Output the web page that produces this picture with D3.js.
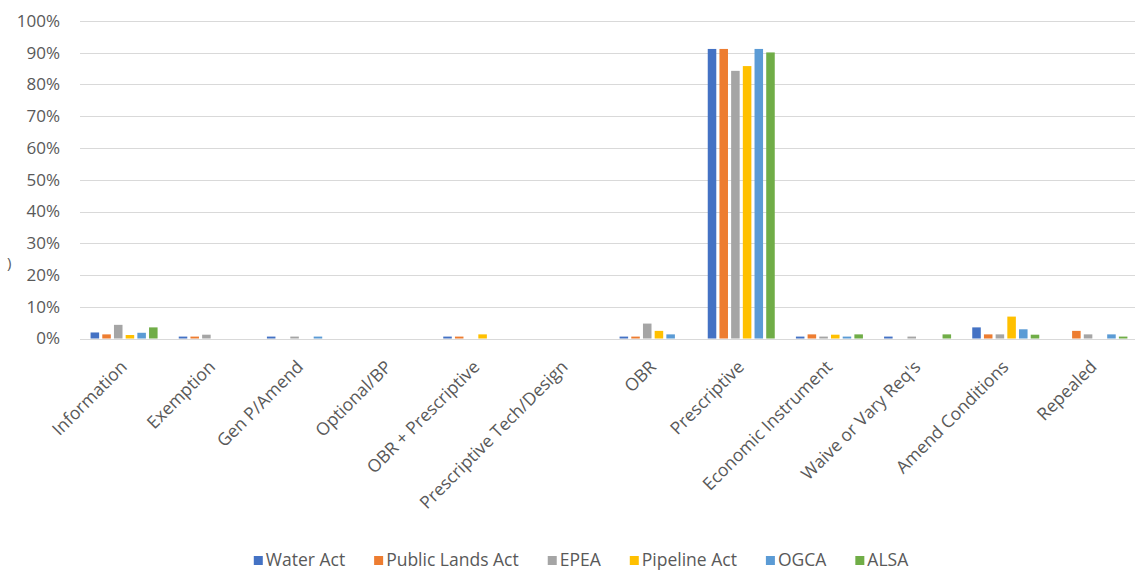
<!DOCTYPE html>
<html>
<head>
<meta charset="utf-8">
<script src="https://cdn.jsdelivr.net/npm/d3@7"></script>
<style>
  html, body { margin: 0; padding: 0; background: #ffffff; }
  svg { display: block; }
  text { font-family: "Open Sans", sans-serif; fill: #595959; }
</style>
</head>
<body>
<svg id="chart" width="1135" height="571"></svg>
<script>
const categories = ["Information", "Exemption", "Gen P/Amend", "Optional/BP", "OBR + Prescriptive",
  "Prescriptive Tech/Design", "OBR", "Prescriptive", "Economic Instrument", "Waive or Vary Req's",
  "Amend Conditions", "Repealed"];
const seriesNames = ["Water Act", "Public Lands Act", "EPEA", "Pipeline Act", "OGCA", "ALSA"];
const waterAct      = [1.9, 0.6, 0.6, 0, 0.6, 0, 0.6, 91.2, 0.6, 0.6, 3.5, 0];
const publicLandsAct= [1.3, 0.6, 0,   0, 0.6, 0, 0.6, 91.2, 1.3, 0,   1.3, 2.4];
const epea          = [4.3, 1.2, 0.6, 0, 0,   0, 4.7, 84.3, 0.6, 0.6, 1.3, 1.3];
const pipelineAct   = [1.1, 0,   0,   0, 1.3, 0, 2.4, 85.8, 1.2, 0,   6.9, 0];
const ogca          = [1.8, 0,   0.6, 0, 0,   0, 1.3, 91.2, 0.6, 0,   2.9, 1.3];
const alsa          = [3.5, 0,   0,   0, 0,   0, 0,   90.1, 1.3, 1.3, 1.2, 0.6];
const yTicks = [0, 10, 20, 30, 40, 50, 60, 70, 80, 90, 100];
const colors = ["#4472C4", "#ED7D31", "#A5A5A5", "#FFC000", "#5B9BD5", "#70AD47"];

const seriesValues = [waterAct, publicLandsAct, epea, pipelineAct, ogca, alsa];

(function () {
const svg = d3.select("#chart");
const plotLeft = 80, plotRight = 1138, plotTop = 21, plotBottom = 338.5;

const x = d3.scaleBand().domain(categories).range([plotLeft, plotRight]).paddingInner(0.24).paddingOuter(0.12);
const xs = d3.scaleBand().domain(seriesNames).range([0, x.bandwidth()]).paddingInner(0.27).paddingOuter(0);
const y = d3.scaleLinear().domain([0, 100]).range([plotBottom, plotTop]);

// gridlines
svg.append("g").selectAll("line").data(yTicks).join("line")
  .attr("x1", plotLeft).attr("x2", 1135)
  .attr("y1", d => Math.round(y(d)) + 0.5).attr("y2", d => Math.round(y(d)) + 0.5)
  .attr("stroke", "#d9d9d9").attr("stroke-width", 1);

// y axis labels
const yAxis = d3.axisLeft(y).tickValues(yTicks).tickFormat(d => d + "%").tickSize(0).tickPadding(0);
const yg = svg.append("g").attr("transform", "translate(60,0)").call(yAxis);
yg.select(".domain").remove();
yg.selectAll("text").attr("font-size", 17).attr("font-family", "Open Sans, sans-serif").attr("fill", "#595959");

// bars
const groups = svg.append("g").selectAll("g").data(categories).join("g")
  .attr("transform", d => `translate(${x(d)},0)`);
groups.selectAll("rect")
  .data((c, ci) => seriesNames.map((s, si) => ({ s, si, v: seriesValues[si][ci] })))
  .join("rect")
  .attr("x", d => xs(d.s))
  .attr("width", xs.bandwidth())
  .attr("y", d => y(d.v))
  .attr("height", d => y(0) - y(d.v))
  .attr("fill", d => colors[d.si]);

// x axis labels
const xAxis = d3.axisBottom(x).tickSize(0).tickPadding(0);
const xg = svg.append("g").call(xAxis);
xg.select(".domain").remove();
xg.selectAll(".tick").attr("transform", d => `translate(${x(d) + x.bandwidth() / 2 + 4},368)`);
xg.selectAll("text")
  .attr("y", 0).attr("dy", 0)
  .attr("text-anchor", "end")
  .attr("transform", "rotate(-45)")
  .attr("font-size", 17.5).attr("font-family", "Open Sans, sans-serif").attr("fill", "#595959");

// stray axis-title fragment
svg.append("text").attr("x", 7).attr("y", 268).attr("font-size", 15).attr("fill", "#404040").text(")");

// legend
const legend = svg.append("g");
const items = legend.selectAll("g").data(seriesNames).join("g");
items.append("rect").attr("width", 9).attr("height", 9).attr("y", -10)
  .attr("fill", (d, i) => colors[i]);
items.append("text").attr("x", 12).attr("y", 0).attr("font-size", 17.5).text(d => d);
let cx = 0;
const gap = 29;
items.each(function () {
  const g = d3.select(this);
  const w = 12 + g.select("text").node().getComputedTextLength();
  g.attr("transform", `translate(${cx},0)`);
  cx += w + gap;
});
const total = cx - gap;
legend.attr("transform", `translate(${581 - total / 2},566)`);
})();
</script>
</body>
</html>
